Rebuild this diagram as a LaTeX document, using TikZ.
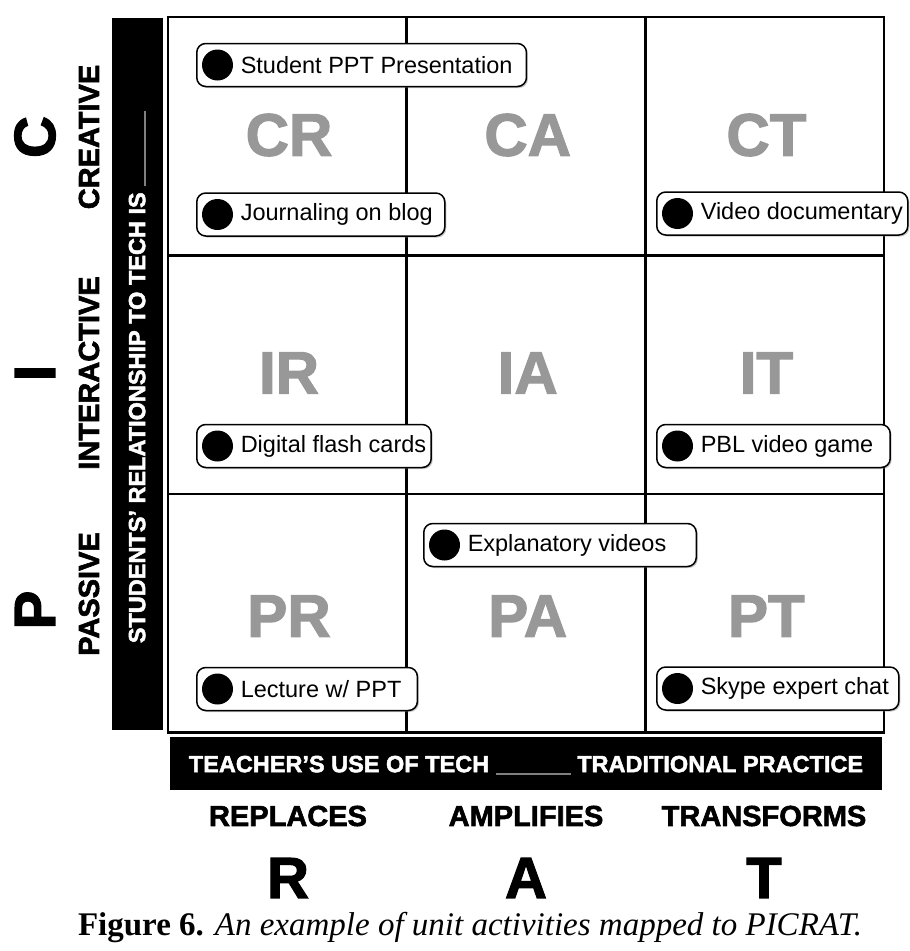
\documentclass[tikz,border=0pt]{standalone}
\usepackage{fontspec}
\setmainfont{Liberation Sans}
\newfontfamily\capfont{Liberation Serif}
\newfontfamily\heavyfont[FakeBold=2]{Liberation Sans Bold}
\usetikzlibrary{shadows}
\definecolor{cellgray}{RGB}{152,152,152}

\begin{document}
\begin{tikzpicture}[x=1pt,y=-1pt,
		gridline/.style={line width=2.6pt},
		cellname/.style={text=cellgray,font=\heavyfont\fontsize{60}{60}\selectfont},
		activity/.style={draw,line width=1.5pt,fill=white,rounded corners=9pt,anchor=west,
				minimum height=43pt,inner xsep=0pt,inner ysep=0pt,
				font=\fontsize{23.5}{24}\selectfont,
				execute at begin node=\hspace*{44pt},execute at end node=\hspace*{#1},
				drop shadow={shadow xshift=1.5pt,shadow yshift=-1.5pt,opacity=.45}},
		activity/.default=14pt,
		bullet/.style={circle,fill=black,inner sep=0pt,minimum size=31pt},
		blackbar/.style={fill=black,inner sep=0pt},
		bartext/.style={text=white,font=\heavyfont\fontsize{23.5}{24}\selectfont},
		axislabel/.style={font=\heavyfont\fontsize{29}{29}\selectfont},
		bigletter/.style={font=\heavyfont\fontsize{58}{58}\selectfont}]
	\useasboundingbox (0,0) rectangle (910,951);

	% grid of nine cells
	\foreach \i [evaluate={\ii=int(\i-1);}] in {0,...,3}{
			\foreach \j [evaluate={\jj=int(\j-1);}] in {0,...,3}{
					\coordinate (n-\i-\j) at (168+238.7*\j,17+238.5*\i);
					\ifnum\i>0
						\ifnum\i<3
							\ifnum\j>0
								\draw [gridline] (n-\i-\j) -- (n-\i-\jj);
							\fi
						\fi
					\fi
					\ifnum\j>0
						\ifnum\j<3
							\ifnum\i>0
								\draw [gridline] (n-\i-\j) -- (n-\ii-\j);
							\fi
						\fi
					\fi
				}}
	\draw [gridline] (n-0-0) rectangle (n-3-3);

	% cell names
	\foreach \r/\i/\yy in {C/0/135,I/1/373,P/2/616}{
			\foreach \c/\j in {R/0,A/1,T/2}{
					\node [cellname] (cell-\r\c) at (289+238.7*\j,\yy) {\r\c};
				}}

	% activities
	\node [activity] (act-cr1) at (196,65) {Student PPT Presentation};
	\node [activity=12pt] (act-cr2) at (196,214.5) {Journaling on blog};
	\node [activity=5pt] (act-ct) at (656,213.5) {Video documentary};
	\node [activity=5pt] (act-ir) at (196,446) {Digital flash cards};
	\node [activity=17pt] (act-it) at (656,446) {PBL video game};
	\node [activity=30pt] (act-pa) at (423,545) {Explanatory videos};
	\node [activity=16pt] (act-pr) at (196,689) {Lecture w/ PPT};
	\node [activity=10pt] (act-pt) at (656,688.5) {Skype expert chat};
	\foreach \a in {cr1,cr2,ct,ir,it,pa,pr,pt}
	\node [bullet] (dot-\a) at ([xshift=21.5pt]act-\a.west) {};

	% students' axis
	\node [blackbar,minimum width=51pt,minimum height=712pt] (studbar) at (137.5,374) {};
	\node [bartext,rotate=90] (studtext) at (137.5,377)
	{STUDENTS’ RELATIONSHIP TO TECH IS \textcolor{gray}{\rule[-1pt]{75pt}{2.2pt}}};
	\node [axislabel,rotate=90] (lbl-c) at (89,137) {CREATIVE};
	\node [axislabel,rotate=90] (lbl-i) at (89,373) {INTERACTIVE};
	\node [axislabel,rotate=90] (lbl-p) at (89,594) {PASSIVE};
	\node [bigletter,rotate=90] (big-c) at (35,137) {C};
	\node [bigletter,rotate=90] (big-i) at (35,373) {I};
	\node [bigletter,rotate=90] (big-p) at (35,610) {P};

	% teacher's axis
	\node [blackbar,minimum width=712pt,minimum height=53pt] (teachbar) at (526,763.5) {};
	\node [bartext] (teachtext) at (526,765.5)
	{TEACHER’S USE OF TECH \textcolor{gray}{\rule[-3pt]{75pt}{2.2pt}} TRADITIONAL PRACTICE};
	\node [axislabel] (lbl-r) at (288,816) {REPLACES};
	\node [axislabel] (lbl-a) at (526,816) {AMPLIFIES};
	\node [axislabel] (lbl-t) at (764,816) {TRANSFORMS};
	\node [bigletter] (big-r) at (288,878) {R};
	\node [bigletter] (big-a) at (526,878) {A};
	\node [bigletter] (big-t) at (764,878) {T};

	% caption
	\node [font=\capfont\fontsize{33}{34}\selectfont] (caption) at (470,928)
	{\textbf{Figure 6.} \textit{An example of unit activities mapped to PICRAT.}};
\end{tikzpicture}
\end{document}
